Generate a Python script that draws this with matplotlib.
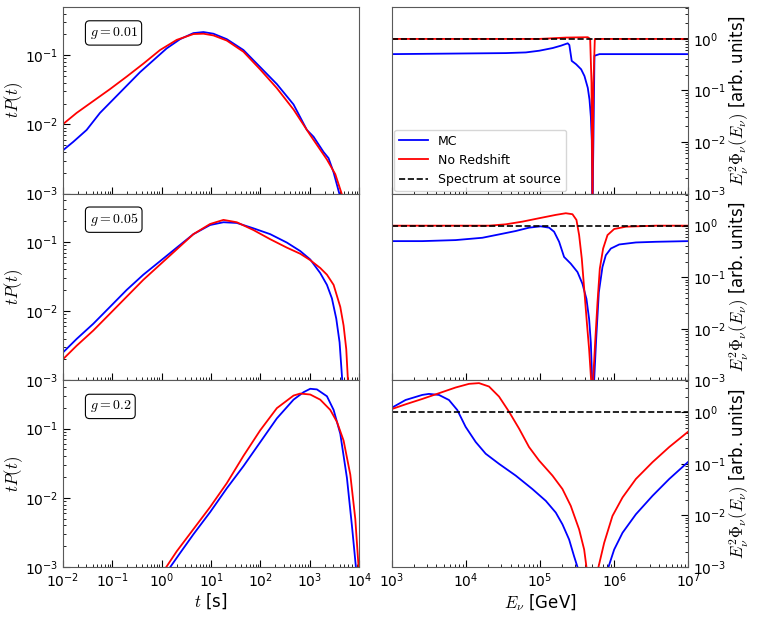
import numpy as np
import matplotlib
matplotlib.use("Agg")
import matplotlib.pyplot as plt

plt.rcParams["mathtext.fontset"] = "cm"
plt.rcParams["font.family"] = "DejaVu Sans"

# ---- datos (log10) ----
g_labels = ["$g=0.01$", "$g=0.05$", "$g=0.2$"]

# izquierda: log10 t, log10 tP(t)
t1_mc = [-2.0, -1.791, -1.52, -1.25, -0.98, -0.709, -0.439, -0.169, 0.101, 0.372, 0.642, 0.845, 1.047, 1.318,
         1.655, 1.993, 2.331, 2.669, 2.939, 3.074, 3.277, 3.378, 3.48, 3.601, 3.649]
p1_mc = [-2.376, -2.253, -2.081, -1.835, -1.639, -1.442, -1.246, -1.074, -0.902, -0.769, -0.681, -0.666, -0.69,
         -0.769, -0.926, -1.172, -1.418, -1.713, -2.081, -2.179, -2.4, -2.489, -2.695, -3.015, -3.187]
t1_nr = [-2.0, -1.723, -1.385, -1.047, -0.709, -0.372, -0.034, 0.304, 0.642, 0.845, 1.047, 1.318, 1.655, 1.993,
         2.331, 2.669, 3.007, 3.345, 3.514, 3.649, 3.682]
p1_nr = [-1.998, -1.835, -1.663, -1.491, -1.31, -1.123, -0.926, -0.779, -0.695, -0.69, -0.715, -0.789, -0.951,
         -1.206, -1.477, -1.786, -2.155, -2.509, -2.72, -3.015, -3.187]

t2_mc = [-2.0, -1.723, -1.385, -1.047, -0.709, -0.372, -0.034, 0.304, 0.642, 0.98, 1.25, 1.52, 1.858, 2.196,
         2.534, 2.804, 3.007, 3.209, 3.345, 3.446, 3.534, 3.601, 3.655, 3.676]
p2_mc = [-2.599, -2.403, -2.183, -1.939, -1.694, -1.474, -1.279, -1.083, -0.888, -0.756, -0.716, -0.726, -0.804,
         -0.888, -1.01, -1.132, -1.254, -1.45, -1.621, -1.817, -2.11, -2.452, -3.0, -3.186]
t2_nr = [-2.0, -1.723, -1.385, -1.047, -0.709, -0.372, -0.034, 0.304, 0.642, 0.98, 1.25, 1.52, 1.858, 2.196,
         2.534, 2.804, 3.007, 3.209, 3.345, 3.48, 3.615, 3.682, 3.736, 3.77, 3.784]
p2_nr = [-2.697, -2.501, -2.281, -2.037, -1.792, -1.548, -1.328, -1.108, -0.888, -0.741, -0.682, -0.716, -0.829,
         -0.961, -1.083, -1.171, -1.264, -1.377, -1.474, -1.621, -1.939, -2.208, -2.55, -3.0, -3.186]

t3_mc = [0.101, 0.169, 0.372, 0.642, 0.98, 1.318, 1.655, 1.993, 2.331, 2.669, 2.872, 3.007, 3.142, 3.345, 3.48,
         3.615, 3.75, 3.851, 3.932, 3.966]
p3_mc = [-3.192, -3.005, -2.798, -2.527, -2.207, -1.862, -1.542, -1.197, -0.852, -0.581, -0.473, -0.424, -0.433,
         -0.532, -0.729, -1.074, -1.714, -2.404, -3.005, -3.192]
t3_nr = [0.0, 0.088, 0.304, 0.642, 0.98, 1.318, 1.655, 1.993, 2.331, 2.669, 2.804, 3.007, 3.209, 3.412, 3.547,
         3.682, 3.818, 3.919, 3.986, 4.0]
p3_nr = [-3.192, -3.005, -2.773, -2.453, -2.133, -1.788, -1.394, -1.025, -0.704, -0.522, -0.493, -0.507, -0.581,
         -0.729, -0.901, -1.172, -1.665, -2.305, -3.005, -3.1]

# derecha: log10 E, log10 E^2 Phi
e1_mc = [3.0, 4.537, 4.808, 4.989, 5.17, 5.282, 5.373, 5.395, 5.427, 5.486, 5.554, 5.599, 5.644, 5.667, 5.685,
         5.698, 5.707, 5.72, 5.734, 5.802, 7.0]
f1_mc = [-0.295, -0.275, -0.262, -0.229, -0.177, -0.131, -0.085, -0.118, -0.426, -0.491, -0.589, -0.72, -0.95,
         -1.179, -1.506, -1.965, -3.27, -1.965, -0.327, -0.295, -0.295]
e1_nr = [3.0, 4.989, 5.35, 5.644, 5.676, 5.694, 5.707, 5.72, 5.739, 7.0]
f1_nr = [0.0, 0.0, 0.026, 0.033, 0.0, -0.851, -3.27, -0.851, 0.0, 0.0]

e2_mc = [3.0, 3.41, 3.86, 4.221, 4.446, 4.671, 4.851, 5.009, 5.122, 5.189, 5.257, 5.324, 5.414, 5.505, 5.572,
         5.626, 5.662, 5.685, 5.703, 5.716, 5.73, 5.757, 5.793, 5.842, 5.887, 5.955, 6.068, 6.293, 6.563, 7.0]
f2_mc = [-0.3, -0.3, -0.28, -0.235, -0.17, -0.104, -0.039, -0.013, -0.039, -0.117, -0.313, -0.607, -0.737, -0.9,
         -1.129, -1.422, -1.813, -2.27, -3.0, -3.38, -3.0, -2.205, -1.292, -0.802, -0.574, -0.444, -0.365, -0.326,
         -0.313, -0.3]
e2_nr = [3.0, 4.311, 4.536, 4.761, 4.986, 5.212, 5.347, 5.437, 5.491, 5.527, 5.563, 5.599, 5.635, 5.662, 5.689,
         5.703, 5.716, 5.743, 5.775, 5.806, 5.851, 5.91, 6.0, 6.158, 6.563, 7.0]
f2_nr = [0.0, 0.0, 0.026, 0.078, 0.144, 0.209, 0.241, 0.222, 0.111, -0.183, -0.639, -1.292, -1.944, -2.401, -3.0,
         -3.38, -3.0, -2.27, -1.487, -0.835, -0.444, -0.183, -0.065, -0.02, 0.0, 0.0]

e3_mc = [3.0, 3.185, 3.41, 3.5, 3.635, 3.77, 3.883, 3.995, 4.131, 4.266, 4.446, 4.671, 4.896, 5.077, 5.212, 5.302,
         5.392, 5.459, 5.505, 5.536, 5.887, 5.923, 6.0, 6.113, 6.293, 6.518, 6.743, 6.995]
f3_mc = [0.091, 0.241, 0.339, 0.359, 0.339, 0.241, 0.046, -0.28, -0.574, -0.802, -0.998, -1.226, -1.487, -1.716,
         -1.944, -2.172, -2.466, -2.792, -3.0, -3.31, -3.31, -3.0, -2.661, -2.335, -1.977, -1.618, -1.292, -0.965]
e3_nr = [3.0, 3.185, 3.41, 3.635, 3.86, 4.041, 4.176, 4.311, 4.446, 4.581, 4.716, 4.851, 4.986, 5.167, 5.302,
         5.414, 5.527, 5.595, 5.626, 5.644, 5.761, 5.788, 5.865, 5.977, 6.113, 6.293, 6.518, 6.743, 6.995]
f3_nr = [0.065, 0.157, 0.261, 0.372, 0.483, 0.554, 0.568, 0.502, 0.307, 0.013, -0.313, -0.672, -0.933, -1.226,
         -1.487, -1.813, -2.27, -2.661, -3.0, -3.31, -3.31, -3.0, -2.531, -2.009, -1.65, -1.292, -0.965, -0.672,
         -0.378]

t_mc = [t1_mc, t2_mc, t3_mc]
p_mc = [p1_mc, p2_mc, p3_mc]
t_nr = [t1_nr, t2_nr, t3_nr]
p_nr = [p1_nr, p2_nr, p3_nr]
e_mc = [e1_mc, e2_mc, e3_mc]
f_mc = [f1_mc, f2_mc, f3_mc]
e_nr = [e1_nr, e2_nr, e3_nr]
f_nr = [f1_nr, f2_nr, f3_nr]

fig = plt.figure(figsize=(7.58, 6.18), dpi=100)
gs_l = fig.add_gridspec(3, 1, left=0.083, right=0.474, top=0.989, bottom=0.0825, hspace=0)
gs_r = fig.add_gridspec(3, 1, left=0.517, right=0.908, top=0.989, bottom=0.0825, hspace=0)

spine_col = "0.35"
lw = 1.3

for i in range(3):
    # izquierda
    ax = fig.add_subplot(gs_l[i])
    ax.plot(10 ** np.array(t_mc[i]), 10 ** np.array(p_mc[i]), color="b", lw=lw)
    ax.plot(10 ** np.array(t_nr[i]), 10 ** np.array(p_nr[i]), color="r", lw=lw)
    ax.set_xscale("log")
    ax.set_yscale("log")
    ax.set_xlim(1e-2, 1e4)
    ax.set_ylim(1e-3, 0.5)
    ax.set_ylabel("$tP(t)$", fontsize=12)
    ax.yaxis.set_label_coords(-0.128, 0.5)
    ax.tick_params(which="both", direction="in", left=True, bottom=True, top=False, right=False, labelsize=10)
    ax.tick_params(which="major", length=5)
    ax.tick_params(which="minor", length=2.5)
    ax.xaxis.set_major_locator(matplotlib.ticker.LogLocator(base=10, numticks=10))
    ax.xaxis.set_minor_locator(matplotlib.ticker.LogLocator(base=10, subs=np.arange(2, 10), numticks=10))
    for s in ax.spines.values():
        s.set_color(spine_col)
    ax.text(0.09, 0.86, g_labels[i], transform=ax.transAxes, fontsize=10, va="center", ha="left",
            bbox=dict(boxstyle="round,pad=0.3", fc="white", ec="black", lw=0.8))
    if i < 2:
        ax.tick_params(labelbottom=False)
    else:
        ax.set_xlabel("$t$ [s]", fontsize=12, labelpad=1)

    # derecha
    ax2 = fig.add_subplot(gs_r[i])
    l1, = ax2.plot(10 ** np.array(e_mc[i]), 10 ** np.array(f_mc[i]), color="b", lw=lw, label="MC")
    l2, = ax2.plot(10 ** np.array(e_nr[i]), 10 ** np.array(f_nr[i]), color="r", lw=lw, label="No Redshift")
    l3 = ax2.axhline(1.0, color="k", ls="--", lw=1.2, label="Spectrum at source")
    ax2.set_xscale("log")
    ax2.set_yscale("log")
    ax2.set_xlim(1e3, 1e7)
    ax2.set_ylim(1e-3, 4.2)
    ax2.yaxis.tick_right()
    ax2.yaxis.set_label_position("right")
    ax2.set_ylabel(r"$E_\nu^2\Phi_\nu(E_\nu)$ [arb. units]", fontsize=12)
    ax2.yaxis.set_label_coords(1.132, 0.5)
    ax2.tick_params(which="both", direction="in", left=False, right=True, bottom=True, top=False, labelsize=10)
    ax2.tick_params(which="major", length=5)
    ax2.tick_params(which="minor", length=2.5)
    for s in ax2.spines.values():
        s.set_color(spine_col)
    if i == 0:
        ax2.legend(handles=[l1, l2, l3], loc="lower left", fontsize=9, borderaxespad=0.2, handlelength=2.3)
    if i < 2:
        ax2.tick_params(labelbottom=False)
    else:
        ax2.set_xlabel(r"$E_\nu$ [GeV]", fontsize=12, labelpad=1)

plt.savefig("out.png", dpi=100)
plt.close()
